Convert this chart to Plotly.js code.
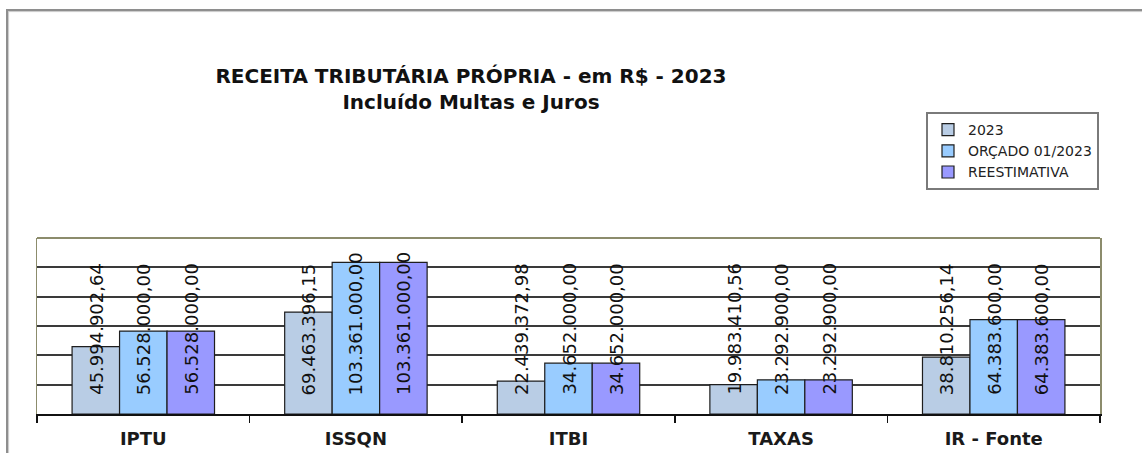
<!DOCTYPE html>
<html>
<head>
<meta charset="utf-8">
<script src="https://cdn.plot.ly/plotly-3.0.1.min.js"></script>
<style>
  html, body { margin:0; padding:0; background:#fff; overflow:hidden; width:1142px; height:453px; }
  #chart { position:absolute; left:0; top:0; width:1142px; height:453px; }
  #frame { position:absolute; left:6px; top:9px; width:1200px; height:500px; border:2px solid #8e8e8e; box-shadow: 1px 1px 1px #c8c8c8 inset; pointer-events:none; }
</style>
</head>
<body>
<div id="chart"></div>
<div id="frame"></div>
<script>
// ---- data ----
const categories = ['IPTU', 'ISSQN', 'ITBI', 'TAXAS', 'IR - Fonte'];
const seriesNames = ['2023', 'ORÇADO 01/2023', 'REESTIMATIVA'];
const values2023 = [45994902.64, 69463396.15, 22439372.98, 19983410.56, 38810256.14];
const valuesOrcado = [56528000.00, 103361000.00, 34652000.00, 23292900.00, 64383600.00];
const valuesReestimativa = [56528000.00, 103361000.00, 34652000.00, 23292900.00, 64383600.00];
const titleLine1 = 'RECEITA TRIBUTÁRIA PRÓPRIA - em R$ - 2023';
const titleLine2 = 'Incluído Multas e Juros';

// ---- styles ----
const colors = ['#B9CDE5', '#99CCFF', '#9999FF'];
const allSeries = [values2023, valuesOrcado, valuesReestimativa];
const bargap = 0.33;
const W = 1142, H = 453;
const M = { l: 37, r: 42, t: 238, b: 39 };
const plotH = H - M.t - M.b;
const plotW = W - M.l - M.r;

function fmtBR(v) {
  const parts = v.toFixed(2).split('.');
  const intPart = parts[0].replace(/\B(?=(\d{3})+(?!\d))/g, '.');
  return intPart + ',' + parts[1];
}

const traces = allSeries.map((vals, i) => ({
  type: 'bar',
  name: seriesNames[i],
  x: categories,
  y: vals,
  marker: { color: colors[i], line: { color: '#1e1e1e', width: 1.2 } },
  hoverinfo: 'none'
}));

// value labels, rotated, anchored near the base of each bar
const nS = allSeries.length;
const barW = (1 - bargap) / nS;
const annotations = [];
allSeries.forEach((vals, j) => {
  vals.forEach((v, i) => {
    annotations.push({
      x: i + (j - (nS - 1) / 2) * barW,
      y: 0,
      xref: 'x', yref: 'y',
      text: fmtBR(v),
      textangle: -90,
      showarrow: false,
      xanchor: 'center',
      yanchor: 'bottom',
      yshift: 17,
      font: { family: 'DejaVu Sans', size: 18, color: '#111' }
    });
  });
});

const layout = {
  width: W,
  height: H,
  paper_bgcolor: 'rgba(0,0,0,0)',
  plot_bgcolor: '#ffffff',
  margin: { l: M.l, r: M.r, t: M.t, b: M.b, pad: 0 },
  barmode: 'group',
  bargap: bargap,
  bargroupgap: 0,
  showlegend: true,
  title: {
    text: '<b>' + titleLine1 + '</b><br><b>' + titleLine2 + '</b>',
    xref: 'container', yref: 'container',
    x: 471 / W, xanchor: 'center',
    y: 1 - 83 / H, yanchor: 'top',
    font: { family: 'DejaVu Sans', size: 20, color: '#111' }
  },
  legend: {
    xref: 'paper', yref: 'paper',
    x: (1099 - M.l) / plotW, xanchor: 'right',
    y: (H - M.b - 112) / plotH, yanchor: 'top',
    bgcolor: '#ffffff',
    bordercolor: '#7a7a7a',
    borderwidth: 2,
    font: { family: 'DejaVu Sans', size: 14, color: '#222' },
    tracegroupgap: 0,
    itemwidth: 30
  },
  xaxis: {
    type: 'category',
    showgrid: false,
    showline: true,
    linecolor: '#111',
    linewidth: 1.5,
    ticks: 'outside',
    tickson: 'boundaries',
    ticklen: 7,
    tickwidth: 1.5,
    tickcolor: '#111',
    ticklabelstandoff: 8,
    tickfont: { family: 'DejaVu Sans', size: 18, color: '#1a1a1a', weight: 'bold' },
    zeroline: false,
    fixedrange: true
  },
  yaxis: {
    range: [0, 120000000],
    tick0: 0,
    dtick: 20000000,
    showticklabels: false,
    ticks: '',
    showgrid: true,
    gridcolor: '#3a3a3a',
    gridwidth: 2,
    zeroline: false,
    showline: true,
    mirror: true,
    linecolor: '#8c8c6c',
    linewidth: 1.5,
    fixedrange: true
  },
  shapes: [{
    type: 'line', xref: 'paper', yref: 'paper',
    x0: 0, x1: 1, y0: 1, y1: 1,
    line: { color: '#8c8c6c', width: 2 },
    layer: 'above'
  }],
  annotations: annotations
};

Plotly.newPlot('chart', traces, layout, { displayModeBar: false, staticPlot: true });
</script>
</body>
</html>
